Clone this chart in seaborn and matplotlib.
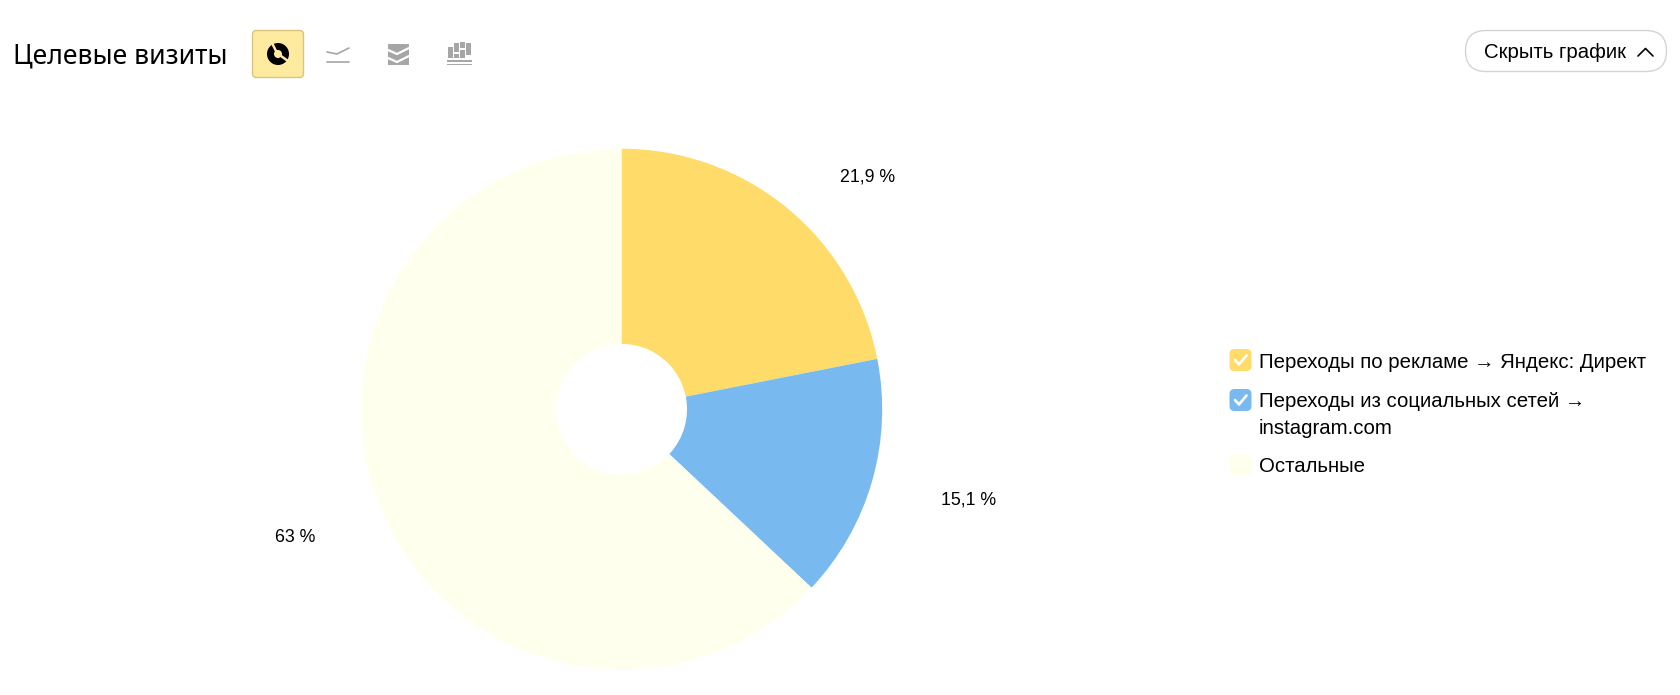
import matplotlib
matplotlib.use('Agg')
import matplotlib.pyplot as plt
import seaborn as sns
from matplotlib.patches import FancyBboxPatch, Rectangle, Wedge

# данные диаграммы
series_names = ['Переходы по рекламе → Яндекс: Директ',
                'Переходы из социальных сетей →\ninstagram.com',
                'Остальные']
share_values = [21.9, 15.1, 63]
share_labels = ['21,9 %', '15,1 %', '63 %']
slice_colors = ['#ffdc69', '#78baf0', '#ffffed']

sns.set_theme(style='white')
plt.rcParams['font.family'] = ['Liberation Sans', 'DejaVu Sans']

W, H = 1680, 695
fig = plt.figure(figsize=(W / 100, H / 100), dpi=100, facecolor='white')

# кольцо в пикселях картинки
cx, cy, r_out, r_in = 621.6, 409.3, 260.6, 65.4
ax = fig.add_axes([(cx - r_out) / W, (H - cy - r_out) / H, 2 * r_out / W, 2 * r_out / H])
ax.pie(share_values, colors=sns.color_palette(slice_colors), startangle=90, counterclock=False,
       radius=1, wedgeprops={'width': 1 - r_in / r_out, 'linewidth': 0})
ax.set_xlim(-1, 1)
ax.set_ylim(-1, 1)
ax.set_aspect('equal')

# верхний слой в пикселях для заголовка, кнопок и легенды
ui = fig.add_axes([0, 0, 1, 1], zorder=5)
ui.set_xlim(0, W)
ui.set_ylim(H, 0)
ui.axis('off')
ui.patch.set_alpha(0)

# подписи долей
for (lx, ly), lab in zip([(868, 177), (969, 500), (295, 537)], share_labels):
    ui.text(lx, ly, lab, ha='center', va='center', fontsize=12.8, color='black')

# заголовок
ui.text(13, 57, 'Целевые визиты', ha='left', va='center', fontsize=19.1,
        family=['Noto Sans', 'DejaVu Sans'], color='black')

# активная кнопка с иконкой круга
btn = '#ffeba0'
ui.add_patch(FancyBboxPatch((252.5, 30.5), 51, 47, boxstyle='round,pad=0,rounding_size=4',
                            fc=btn, ec='#d9c37e', lw=1))
ui.add_patch(Wedge((278, 54), 11, 0, 360, width=7, fc='black', lw=0))
ui.plot([276, 272], [51, 43], color=btn, lw=1.8)
ui.plot([281, 288], [56, 61], color=btn, lw=1.8)

# серые иконки
grey = '#a6a6a6'
ui.plot([327, 337, 349], [52, 54, 48], color=grey, lw=1.2)
ui.plot([327, 349], [62, 62], color=grey, lw=1.2)

ui.add_patch(Rectangle((388, 44), 21, 21, fc=grey, lw=0))
ui.plot([388, 397, 409], [50, 54, 48], color='white', lw=1.6)
ui.plot([388, 397, 409], [58, 62, 56], color='white', lw=1.6)

for bx, by, bh in [(448, 47, 11), (454, 43, 9), (454, 54, 4), (460, 42, 6), (460, 50, 8), (466, 43, 12)]:
    ui.add_patch(Rectangle((bx, by), 4.5, bh, fc=grey, lw=0))
ui.add_patch(Rectangle((447, 60), 25, 1.8, fc=grey, lw=0))
ui.add_patch(Rectangle((447, 63.5), 25, 1.8, fc=grey, lw=0))

# кнопка справа
ui.add_patch(FancyBboxPatch((1465.5, 30.5), 201, 41, boxstyle='round,pad=0,rounding_size=20.5',
                            fc='white', ec='#d4d4d4', lw=1))
ui.text(1484, 52, 'Скрыть график', ha='left', va='center', fontsize=14.7, color='black')
ui.plot([1638, 1645.5, 1653], [56, 48.5, 56], color='black', lw=1.2)

# легенда
box_y = [360, 400, 465]
text_y = [362, 415, 467]
for i, name in enumerate(series_names):
    ui.add_patch(FancyBboxPatch((1229.5, box_y[i] - 11), 22, 22,
                                boxstyle='round,pad=0,rounding_size=5',
                                fc=slice_colors[i], lw=0))
    if i < 2:
        ui.plot([1235, 1239, 1246.5], [box_y[i], box_y[i] + 4.5, box_y[i] - 4.5], color='white', lw=1.9)
    ui.text(1259, text_y[i], name, ha='left', va='center', fontsize=14.65, color='black',
            linespacing=1.55)

fig.savefig('out.png', dpi=100)
